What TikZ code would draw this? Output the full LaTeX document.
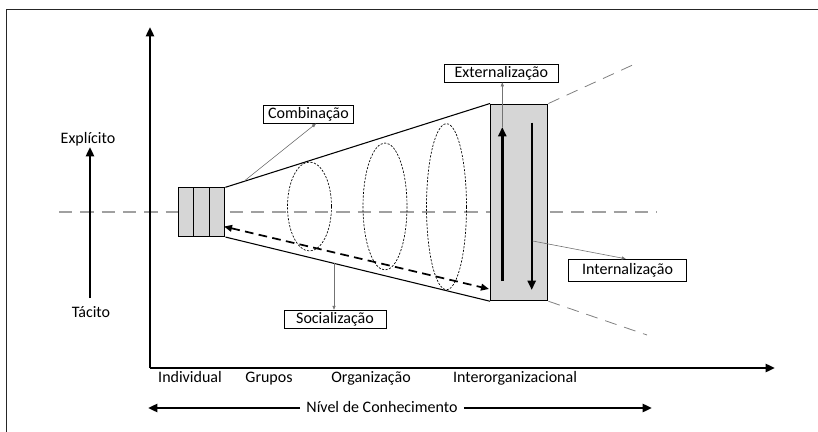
\documentclass[tikz,border=0pt]{standalone}
\usepackage{fontspec}
\setmainfont{Carlito}
\usetikzlibrary{arrows.meta}
\definecolor{boxgray}{HTML}{D6D6D6}
\definecolor{dashgray}{HTML}{A0A0A0}
\begin{document}
\begin{tikzpicture}[x=0.75pt,y=-0.75pt,
  lbl/.style={draw, line width=0.6pt, fill=white, inner sep=0pt, text height=8.6pt, text depth=2.6pt, font=\fontsize{12}{14}\selectfont},
  txt/.style={inner sep=0pt, text height=8.6pt, text depth=2.6pt, font=\fontsize{12}{14}\selectfont},
  axis/.style={line width=1.8pt, -{Triangle[length=7pt,width=6pt]}},
  leader/.style={draw=black!55, line width=0.45pt, -{Triangle[length=3pt,width=2.4pt]}},
  cone/.style={line width=0.8pt},
  ellip/.style={draw, line width=0.5pt, dash pattern=on 1.6pt off 1.1pt},
  shade/.style={draw, line width=0.8pt, fill=boxgray}]
\useasboundingbox (0,0) rectangle (818,432);
% frame
\draw[line width=1.3pt, black!85] (818,9.5) -- (6.5,9.5) -- (6.5,432);

% centre dashed line
\draw[dashgray, line width=0.9pt, dash pattern=on 10pt off 6pt] (59,212) -- (657,212);

% axes
\coordinate (O) at (150,368);
\coordinate (Ytop) at (150,27);
\coordinate (Xend) at (775,368);
\draw[axis] (O) -- (Ytop);
\draw[axis] (O) -- (Xend);

% Tacito / Explicito
\node[txt] (exp) at (88,139) {Explícito};
\node[txt] (tac) at (91,313) {Tácito};
\coordinate (ta) at (90,298);
\coordinate (tb) at (90,147);
\draw[axis] (ta) -- (tb);

% x labels
\node[txt] (ind) at (190,378) {Individual};
\node[txt] (gru) at (269,378) {Grupos};
\node[txt] (org) at (371,378) {Organização};
\node[txt] (inter) at (515,378) {Interorganizacional};

% Nivel de conhecimento
\node[txt] (niv) at (382,408) {Nível de Conhecimento};
\coordinate (nl) at (148,408);
\coordinate (nr) at (652,408);
\draw[axis] (niv.west) ++(-6,0) coordinate (nlw) -- (nl);
\draw[axis] (niv.east) ++(6,0) coordinate (nre) -- (nr);

% small boxes
\node[shade, minimum width=11.7pt, minimum height=36.5pt, inner sep=0pt, anchor=north west] (b1) at (177.7,187.3) {};
\node[shade, minimum width=11.7pt, minimum height=36.5pt, inner sep=0pt, anchor=north west] (b2) at (193.3,187.3) {};
\node[shade, minimum width=11.5pt, minimum height=36.5pt, inner sep=0pt, anchor=north west] (b3) at (209,187.3) {};

% big rectangle
\node[shade, minimum width=43pt, minimum height=147.5pt, inner sep=0pt, anchor=north west] (big) at (490,103.5) {};

% cone
\draw[cone] (b3.north east) -- (big.north west);
\draw[cone] (b3.south east) -- (big.south west);

% dashed extensions
\coordinate (et) at (637,63);
\coordinate (eb) at (647,335);
\draw[dashgray!80!black, line width=0.6pt, dash pattern=on 9pt off 6pt] (big.north east) -- (et);
\draw[dashgray!80!black, line width=0.6pt, dash pattern=on 9pt off 6pt] (big.south east) -- (eb);

% ellipses
\draw[ellip] (309.5,206.5) ellipse [x radius=22, y radius=44.5];
\draw[ellip] (385,206.5) ellipse [x radius=22, y radius=63.5];
\draw[ellip] (446.5,206.7) ellipse [x radius=20, y radius=83];

% dashed double arrow
\coordinate (dL) at (224,226.5);
\coordinate (dR) at (489,289);
\draw[line width=1.3pt, dash pattern=on 6.5pt off 4pt, {Triangle[length=6pt,width=5pt]}-{Triangle[length=6pt,width=5pt]}] (dL) -- (dR);

% arrows inside big box
\coordinate (ua) at (502.3,281);
\coordinate (ub) at (502.3,127);
\coordinate (da) at (531.7,122.7);
\coordinate (db) at (531.7,290);
\draw[line width=1.8pt, -{Triangle[length=7pt,width=6pt]}] (ua) -- (ub);
\draw[line width=1.8pt, -{Triangle[length=7pt,width=6pt]}] (da) -- (db);

% label boxes
\node[lbl, minimum width=68pt, minimum height=13pt] (comb) at (308.5,114.5) {Combinação};
\node[lbl, minimum width=85.5pt, minimum height=13.5pt] (ext) at (501.3,73) {Externalização};
\node[lbl, minimum width=88pt, minimum height=17pt] (intl) at (627.5,270.5) {Internalização};
\node[lbl, minimum width=76.5pt, minimum height=14pt] (soc) at (335,319.5) {Socialização};

% leaders
\coordinate (cl) at (245,180.4);
\coordinate (sl) at (334,262.5);
\coordinate (il) at (532.7,241);
\draw[leader] (cl) -- (comb.south -| 316,0);
\draw[leader] (ub) -- (ext.south -| ub);
\draw[leader] (il) -- (intl.north -| 625.7,0);
\draw[leader] (sl) -- (soc.north -| sl);
\end{tikzpicture}
\end{document}
